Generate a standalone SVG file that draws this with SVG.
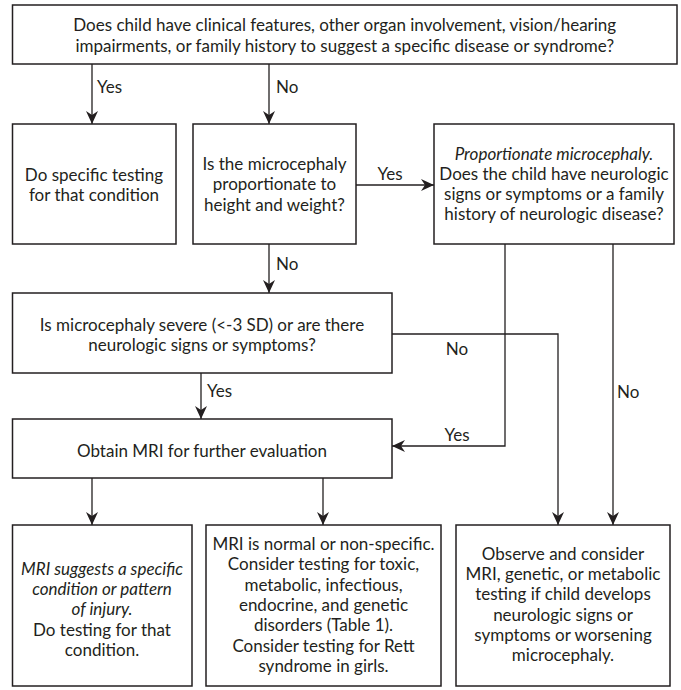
<svg xmlns="http://www.w3.org/2000/svg" width="681" height="690" viewBox="0 0 681 690">
<defs>
<marker id="ah" markerUnits="userSpaceOnUse" markerWidth="16" markerHeight="14" viewBox="-14 -7 16 14" refX="0" refY="0" orient="auto">
<path d="M0,0 L-13,-6 L-9,0 L-13,6 Z" fill="#231f20"/>
</marker>
<style>
.box{fill:#fff;stroke:#231f20;stroke-width:1.5}
.ln{fill:none;stroke:#231f20;stroke-width:1.3}
text{font-family:Lato,"Liberation Sans",sans-serif;font-size:17px;fill:#231f20}
.c{text-anchor:middle}
.i{font-style:italic}
</style>
</defs>
<rect width="681" height="690" fill="#fff"/>
<g id="connectors">
<line class="ln" x1="92" y1="64" x2="92" y2="124" marker-end="url(#ah)"/>
<text x="97" y="93">Yes</text>
<line class="ln" x1="269" y1="64" x2="269" y2="124" marker-end="url(#ah)"/>
<text x="276" y="93">No</text>
<line class="ln" x1="356" y1="185" x2="434" y2="185" marker-end="url(#ah)"/>
<text class="c" x="390" y="180">Yes</text>
<line class="ln" x1="269" y1="244" x2="269" y2="293" marker-end="url(#ah)"/>
<text x="276" y="270">No</text>
<polyline class="ln" points="392,334 558,334 558,525" marker-end="url(#ah)"/>
<text class="c" x="457" y="355">No</text>
<line class="ln" x1="201" y1="373" x2="201" y2="419" marker-end="url(#ah)"/>
<text x="207" y="397">Yes</text>
<polyline class="ln" points="505,244 505,446 392,446" marker-end="url(#ah)"/>
<text class="c" x="457" y="441">Yes</text>
<line class="ln" x1="613" y1="244" x2="613" y2="525" marker-end="url(#ah)"/>
<text x="617" y="398">No</text>
<line class="ln" x1="92" y1="478" x2="92" y2="525" marker-end="url(#ah)"/>
<line class="ln" x1="323" y1="478" x2="323" y2="525" marker-end="url(#ah)"/>
</g>
<g id="q1">
<rect class="box" x="12.5" y="5" width="664.5" height="59"/>
<text class="c" x="344.75" y="30.5">Does child have clinical features, other organ involvement, vision/hearing</text>
<text class="c" x="344.75" y="52">impairments, or family history to suggest a specific disease or syndrome?</text>
</g>
<g id="specific">
<rect class="box" x="12.5" y="124" width="163.5" height="120"/>
<text class="c" x="94" y="181">Do specific testing</text>
<text class="c" x="94" y="201">for that condition</text>
</g>
<g id="q2">
<rect class="box" x="193" y="124" width="163" height="120"/>
<text class="c" x="274.5" y="170">Is the microcephaly</text>
<text class="c" x="274.5" y="190">proportionate to</text>
<text class="c" x="274.5" y="211">height and weight?</text>
</g>
<g id="q3">
<rect class="box" x="434" y="124" width="240" height="120"/>
<text class="c i" x="554" y="160">Proportionate microcephaly.</text>
<text class="c" x="554" y="180">Does the child have neurologic</text>
<text class="c" x="554" y="200">signs or symptoms or a family</text>
<text class="c" x="554" y="220">history of neurologic disease?</text>
</g>
<g id="q4">
<rect class="box" x="12.5" y="293" width="379.5" height="80"/>
<text class="c" x="202" y="330.5">Is microcephaly severe (&lt;-3 SD) or are there</text>
<text class="c" x="202" y="351">neurologic signs or symptoms?</text>
</g>
<g id="mri">
<rect class="box" x="12.5" y="419" width="379.5" height="59"/>
<text class="c" x="202" y="456.5">Obtain MRI for further evaluation</text>
</g>
<g id="r1">
<rect class="box" x="12.5" y="525" width="179.5" height="161"/>
<text class="c i" x="102" y="575">MRI suggests a specific</text>
<text class="c i" x="102" y="595">condition or pattern</text>
<text class="c i" x="102" y="615">of injury.</text>
<text class="c" x="102" y="636">Do testing for that</text>
<text class="c" x="102" y="656">condition.</text>
</g>
<g id="r2">
<rect class="box" x="206" y="525" width="235" height="161"/>
<text class="c" x="323.5" y="550">MRI is normal or non-specific.</text>
<text class="c" x="323.5" y="570">Consider testing for toxic,</text>
<text class="c" x="323.5" y="591">metabolic, infectious,</text>
<text class="c" x="323.5" y="611">endocrine, and genetic</text>
<text class="c" x="323.5" y="631">disorders (Table 1).</text>
<text class="c" x="323.5" y="652">Consider testing for Rett</text>
<text class="c" x="323.5" y="672">syndrome in girls.</text>
</g>
<g id="r3">
<rect class="box" x="456" y="525" width="214" height="161"/>
<text class="c" x="563" y="560">Observe and consider</text>
<text class="c" x="563" y="580">MRI, genetic, or metabolic</text>
<text class="c" x="563" y="600">testing if child develops</text>
<text class="c" x="563" y="621">neurologic signs or</text>
<text class="c" x="563" y="641">symptoms or worsening</text>
<text class="c" x="563" y="661">microcephaly.</text>
</g>
</svg>
